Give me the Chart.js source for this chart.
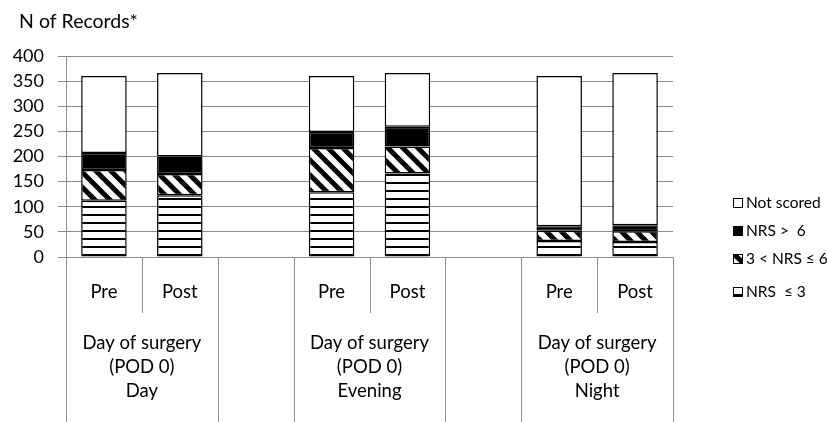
<!DOCTYPE html>
<html lang="en">
<head>
    <meta charset="UTF-8">
    <title>N of Records by NRS</title>
    <style>
        body { margin: 0; background: #FFFFFF; }
        .chart-container { width: 827px; height: 422px; position: relative; }
    </style>
</head>
<body>
    <div class="chart-container">
        <canvas id="nrsChart"></canvas>
    </div>

    <script src="https://cdn.jsdelivr.net/npm/chart.js"></script>
    <script>
        // Data
        const categories = ['Pre', 'Post', '', 'Pre', 'Post', '', 'Pre', 'Post'];
        const groupLabels = [
            ['Day of surgery', '(POD 0)', 'Day'],
            ['Day of surgery', '(POD 0)', 'Evening'],
            ['Day of surgery', '(POD 0)', 'Night']
        ];
        const groupIndexes = [[0, 1], [3, 4], [6, 7]];
        const nrsLow = [112, 123, null, 129, 166, null, 32, 30];
        const nrsMid = [61, 42, null, 88, 54, null, 20, 21];
        const nrsHigh = [34, 35, null, 32, 39, null, 9, 12];
        const notScored = [153, 166, null, 111, 107, null, 299, 303];
        const seriesNames = ['NRS  \u2264 3', '3 < NRS \u2264 6', 'NRS >  6', 'Not scored'];
        const yTitle = 'N of Records*';

        const FONT = 'Lato, "Open Sans", sans-serif';

        // fill patterns like the Excel ones
        function makePattern(kind) {
            const c = document.createElement('canvas');
            const p = c.getContext('2d');
            if (kind === 'hlines') {
                c.width = 8; c.height = 8;
                p.fillStyle = '#fff'; p.fillRect(0, 0, 8, 8);
                p.fillStyle = '#000'; p.fillRect(0, 6, 8, 2);
            } else {
                const s = 15;
                c.width = s; c.height = s;
                p.fillStyle = '#fff'; p.fillRect(0, 0, s, s);
                p.strokeStyle = '#000'; p.lineWidth = 5;
                for (let k = -1; k <= 1; k++) {
                    p.beginPath();
                    p.moveTo(k * s - 2, -2);
                    p.lineTo(k * s + s + 2, s + 2);
                    p.stroke();
                }
            }
            return p.createPattern(c, 'repeat');
        }

        const fills = [makePattern('hlines'), makePattern('diag'), '#000000', '#FFFFFF'];
        const legendY = [292, 259, 231, 203];

        const axisDecor = {
            id: 'axisDecor',
            beforeDraw(chart) {
                const g = chart.ctx;
                g.save();
                g.fillStyle = '#fff';
                g.fillRect(0, 0, chart.width, chart.height);
                g.restore();
            },
            afterDraw(chart) {
                const g = chart.ctx;
                const x = chart.scales.x;
                const area = chart.chartArea;
                const half = (x.getPixelForValue(1) - x.getPixelForValue(0)) / 2;
                g.save();
                // axis title, top left
                g.fillStyle = '#000';
                g.textBaseline = 'middle';
                g.textAlign = 'left';
                g.font = '19.5px ' + FONT;
                g.fillText(yTitle, 19, 22);

                g.strokeStyle = '#8C8C8C';
                g.lineWidth = 1;
                g.textAlign = 'center';
                g.font = '18.5px ' + FONT;
                categories.forEach((c, i) => {
                    if (c) g.fillText(c, x.getPixelForValue(i), area.bottom + 35);
                });
                groupIndexes.forEach((idx, gi) => {
                    const left = x.getPixelForValue(idx[0]) - half;
                    const right = x.getPixelForValue(idx[1]) + half;
                    const mid = x.getPixelForValue(idx[0]) + half;
                    [left, right].forEach(px => {
                        g.beginPath();
                        g.moveTo(Math.round(px) + 0.5, area.bottom);
                        g.lineTo(Math.round(px) + 0.5, chart.height);
                        g.stroke();
                    });
                    g.beginPath();
                    g.moveTo(Math.round(mid) + 0.5, area.bottom);
                    g.lineTo(Math.round(mid) + 0.5, area.bottom + 56);
                    g.stroke();
                    groupLabels[gi].forEach((t, li) => {
                        g.fillText(t, (left + right) / 2, area.bottom + 86 + li * 24);
                    });
                });
                // legend
                g.textAlign = 'left';
                g.font = '15.5px ' + FONT;
                chart.data.datasets.forEach((ds, i) => {
                    const y = legendY[i];
                    g.fillStyle = ds.backgroundColor;
                    g.fillRect(733, y - 5, 10, 10);
                    g.strokeStyle = '#000';
                    g.strokeRect(733.5, y - 4.5, 9, 9);
                    g.fillStyle = '#000';
                    g.fillText(ds.label, 746, y);
                });
                g.restore();
            }
        };

        const seriesData = [nrsLow, nrsMid, nrsHigh, notScored];
        const datasets = seriesData.map((d, i) => ({
            label: seriesNames[i],
            data: d,
            backgroundColor: fills[i],
            borderColor: '#000',
            borderWidth: 1.5,
            borderSkipped: false,
            barPercentage: 0.6,
            categoryPercentage: 1
        }));

        new Chart(document.getElementById('nrsChart'), {
            type: 'bar',
            data: { labels: categories, datasets: datasets },
            plugins: [axisDecor],
            options: {
                responsive: true,
                maintainAspectRatio: false,
                animation: false,
                layout: { padding: { left: 4, right: 154, bottom: 165, top: 56 } },
                plugins: {
                    legend: { display: false },
                    tooltip: { enabled: false },
                    title: { display: false }
                },
                scales: {
                    x: {
                        stacked: true,
                        display: false
                    },
                    y: {
                        stacked: true,
                        min: 0,
                        max: 400,
                        afterFit(scale) { scale.width = 62; },
                        ticks: {
                            stepSize: 50,
                            color: '#000',
                            padding: 14,
                            font: { family: FONT, size: 18 }
                        },
                        grid: { color: '#8C8C8C', tickLength: 8 },
                        border: { color: '#8C8C8C' }
                    }
                }
            }
        });
    </script>
</body>
</html>
